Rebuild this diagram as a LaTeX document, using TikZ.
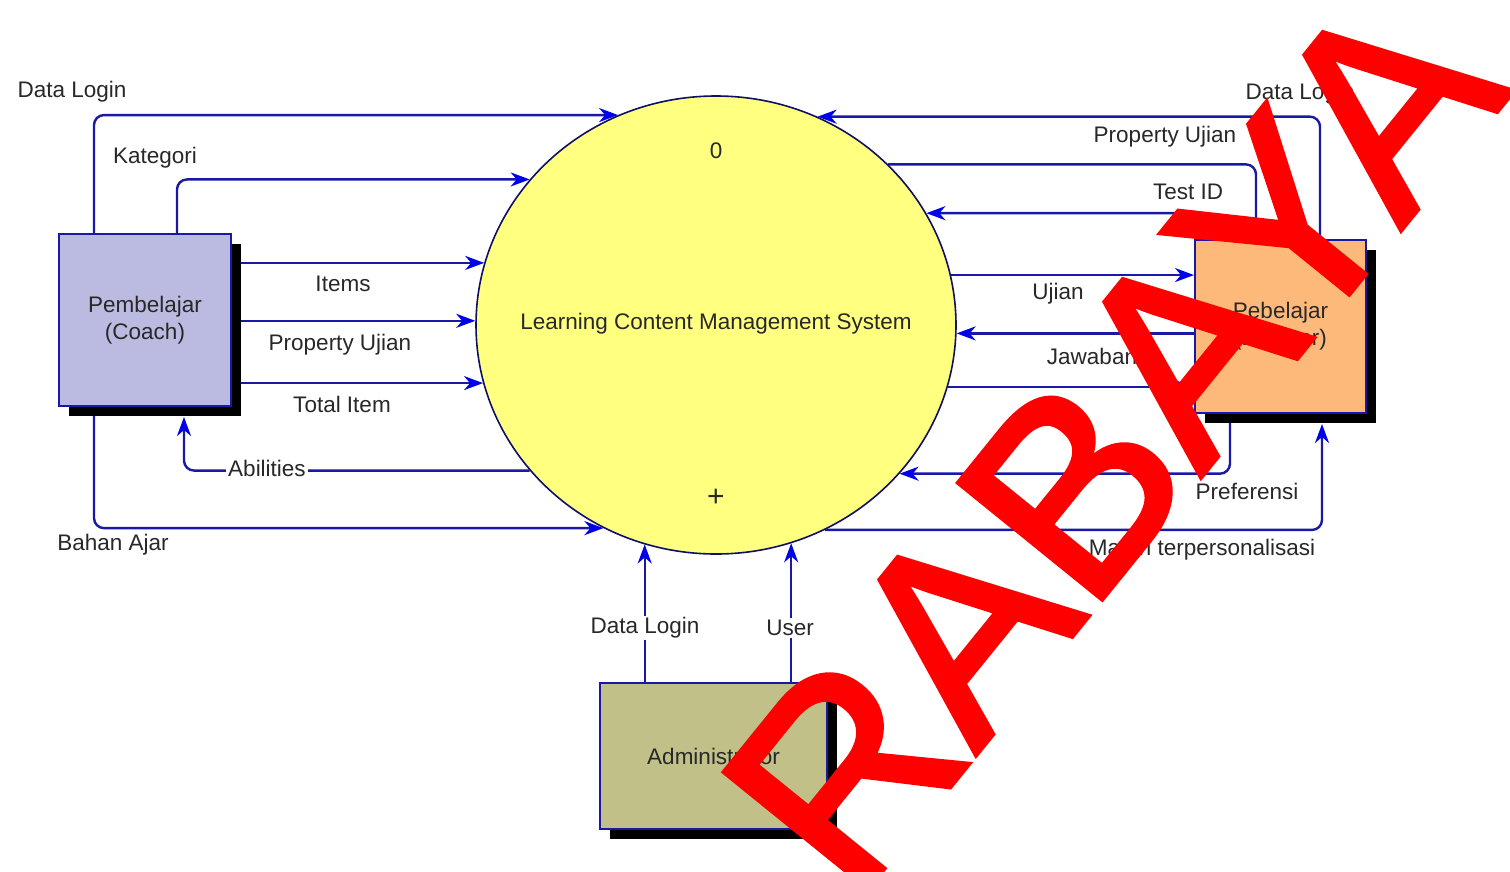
\documentclass[tikz,border=0pt]{standalone}
\usepackage{fontspec}
\setmainfont{Liberation Sans}
\newfontfamily\stampfont[FakeBold=2]{Liberation Sans}
\usetikzlibrary{arrows.meta,shapes.geometric,shadows,backgrounds,calc}

\definecolor{flowblue}{RGB}{25,25,165}
\definecolor{tipblue}{RGB}{0,0,235}
\definecolor{coachfill}{RGB}{187,187,226}
\definecolor{learnerfill}{RGB}{253,185,122}
\definecolor{adminfill}{RGB}{192,192,136}
\definecolor{procfill}{RGB}{255,255,128}
\definecolor{inkgray}{RGB}{40,40,40}
\definecolor{markred}{RGB}{255,0,0}

\begin{document}
\begin{tikzpicture}[x=1pt,y=-1pt,
  font=\fontsize{22.5}{27}\selectfont, text=inkgray,
  entity/.style={draw=flowblue, line width=2pt, inner sep=0pt, align=center,
    drop shadow={shadow xshift=10pt, shadow yshift=-10pt, fill=black, opacity=1}},
  process/.style={ellipse, draw=flowblue!60!black, line width=1.6pt, fill=procfill,
    minimum width=480pt, minimum height=458pt, inner sep=0pt},
  flow/.style={draw=flowblue, line width=2.4pt, rounded corners=10pt,
    -{Stealth[length=19pt,width=14pt,inset=6pt,color=tipblue]}},
  smallflow/.style={draw=flowblue, line width=2.4pt, rounded corners=10pt,
    -{Stealth[length=8pt,width=8pt,inset=2pt,color=tipblue]}},
  flowlabel/.style={inner sep=2pt},
  onlinelabel/.style={fill=white, inner sep=2pt},
]
\useasboundingbox (0,0) rectangle (1510,871);

% process and external entities
\node[process] (ell) at (716,325) {};
\node (elltxt) at (716,324) {Learning Content Management System};
\node (idx) at (716,151) {0};
\node[font=\fontsize{30}{30}\selectfont] (plus) at (716,498) {+};

\node[entity, fill=coachfill, minimum width=172pt, minimum height=172pt]
  (coach) at (145,320) {Pembelajar\\(Coach)};
\node[entity, fill=learnerfill, minimum width=171pt, minimum height=173pt]
  (learner) at (1280.5,326.5) {Pebelajar\\(Learner)};
\node[entity, fill=adminfill, minimum width=227pt, minimum height=146pt]
  (admin) at (713.5,756) {Administrator};

% data flows, kept beneath the shapes
\begin{pgfonlayer}{background}
\fill[white] (0,0) rectangle (1510,871);
% coach side
\draw[flow] ([xshift=-51pt]coach.north) |- (ell.115);
\draw[flow] ([xshift=32pt]coach.north) |- (ell.142);
\draw[flow] (coach.east |- ell.165) -- (ell.165);
\draw[flow] (coach.east |- ell.179) -- (ell.179);
\draw[flow] (coach.east |- ell.194) -- (ell.194);
\draw[flow] (ell.218) -| ([xshift=39pt,yshift=-10pt]coach.south);
\draw[flow] ([xshift=-51pt]coach.south) |- (ell.241);
% learner side
\draw[flow] ([xshift=39.5pt]learner.north) |- (ell.64);
\draw[smallflow] (ell.43) -| ([xshift=-24.5pt]learner.north);
\draw[flow] ([xshift=-70.5pt]learner.north) |- (ell.28);
\draw[flow] (ell.12) -- (learner.west |- ell.12);
\draw[flow] (learner.west |- ell.358) -- (ell.358);
\draw[flow] (ell.345) -- (learner.west |- ell.345);
\draw[flow] ([xshift=-50.5pt]learner.south) |- (ell.321);
\draw[flow] (ell.298) -| ([xshift=41.5pt,yshift=-10pt]learner.south);
% administrator
\draw[flow] (admin.north -| ell.252) -- (ell.252);
\draw[flow] (admin.north -| ell.289) -- (ell.289);
\end{pgfonlayer}

% flow labels
\node[flowlabel] (tDataL) at (72,92) {Data Login};
\node[flowlabel] (tKat) at (155,158) {Kategori};
\node[flowlabel] (tItems) at (343,284) {Items};
\node[flowlabel] (tPropL) at (340,345) {Property Ujian};
\node[flowlabel] (tTotal) at (342,404) {Total Item};
\node[onlinelabel] (tAbil) at (267,468) {Abilities};
\node[flowlabel] (tBahan) at (113,545) {Bahan Ajar};

\node[flowlabel] (tDataR) at (1300,94) {Data Login};
\node[flowlabel] (tPropR) at (1165,137) {Property Ujian};
\node[flowlabel] (tTest) at (1188,192) {Test ID};
\node[flowlabel] (tUjian) at (1058,294) {Ujian};
\node[flowlabel] (tJawab) at (1092,356) {Jawaban};
\node[flowlabel] (tNilai) at (1057,413) {Nilai};
\node[flowlabel] (tPref) at (1247,491) {Preferensi};
\node[flowlabel] (tMateri) at (1202,550) {Materi terpersonalisasi};

\node[onlinelabel] (tDataB) at (645,628) {Data Login};
\node[onlinelabel] (tUser) at (790,628) {User};

% red stamp across the sheet
\node[text=markred, font=\stampfont\fontsize{268}{268}\selectfont, rotate=51, inner sep=0pt]
  (stamp) at (1112,440) {RABAYA};
\end{tikzpicture}
\end{document}
